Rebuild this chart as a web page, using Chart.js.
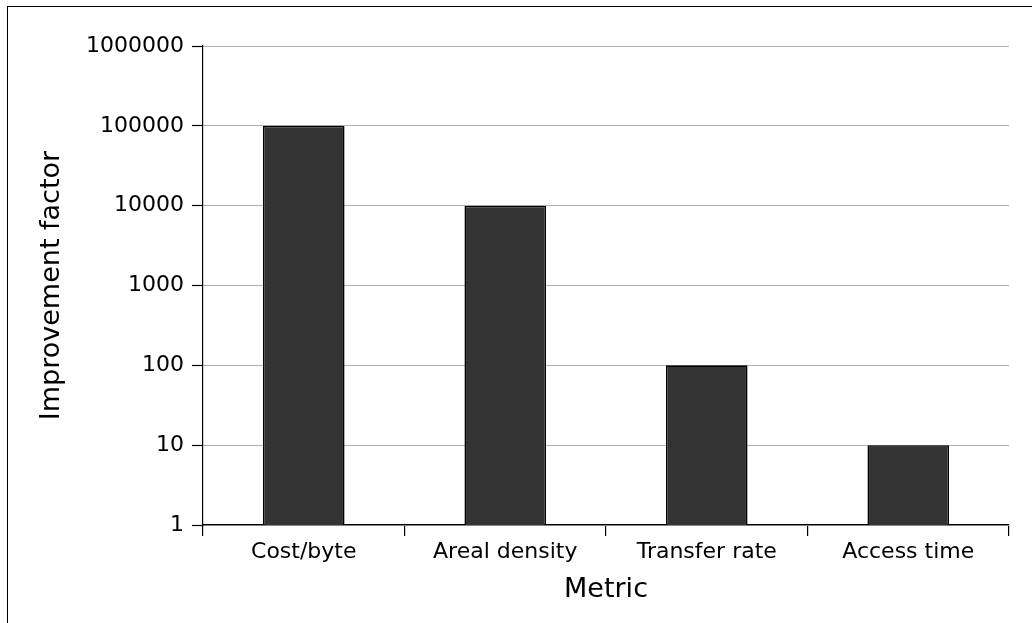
<!DOCTYPE html>
<html>
<head>
<meta charset="utf-8">
<script src="https://cdn.jsdelivr.net/npm/chart.js@4/dist/chart.umd.min.js"></script>
<style>
  body { margin: 0; background: #fff; }
  #wrap { position: relative; width: 1032px; height: 623px; overflow: hidden; }
  #frame { position: absolute; left: 7px; top: 6px; width: 1100px; height: 700px; border: 1.5px solid #000; }
  #box { position: absolute; left: 0; top: 0; width: 1032px; height: 623px; }
</style>
</head>
<body>
<div id="wrap">
  <div id="frame"></div>
  <div id="box"><canvas id="myChart"></canvas></div>
</div>
<script>
const metrics = ['Cost/byte', 'Areal density', 'Transfer rate', 'Access time'];
const improvement = [100000, 10000, 100, 10];
const yTicks = [1, 10, 100, 1000, 10000, 100000, 1000000];

Chart.defaults.font.family = 'DejaVu Sans';
Chart.defaults.color = '#000';

const ctx = document.querySelector('#myChart').getContext('2d');
const chart = new Chart(ctx, {
    type: 'bar',
    data: {
        labels: metrics,
        datasets: [{
            data: improvement,
            backgroundColor: '#333333',
            borderColor: '#000000',
            borderWidth: 1.6,
            barPercentage: 0.405,
            categoryPercentage: 1.0
        }]
    },
    options: {
        responsive: true,
        maintainAspectRatio: false,
        animation: false,
        layout: { padding: { left: 0, top: 46, right: 23, bottom: 0 } },
        plugins: { legend: { display: false }, tooltip: { enabled: false } },
        scales: {
            x: {
                type: 'category',
                offset: true,
                afterFit: function(scale) { scale.height = 98; },
                grid: { offset: true, drawOnChartArea: false, drawTicks: true, tickLength: 11, tickColor: '#000', lineWidth: 1.2 },
                border: { display: true, color: '#000', width: 1.2 },
                ticks: { font: { size: 22 }, padding: 3, maxRotation: 0 },
                title: { display: true, text: 'Metric', font: { size: 27 }, padding: { top: 0, bottom: 17 } }
            },
            y: {
                type: 'logarithmic',
                min: 1,
                max: 1000000,
                afterFit: function(scale) { scale.width = 203; },
                afterBuildTicks: function(scale) {
                    scale.ticks = yTicks.map(v => ({ value: v }));
                },
                grid: { color: '#b0b0b0', lineWidth: 1, drawTicks: true, tickLength: 11, tickColor: '#000', tickWidth: 1.2 },
                border: { display: true, color: '#000', width: 1.2 },
                ticks: {
                    font: { size: 22 },
                    padding: 8,
                    callback: function(value) { return String(value); }
                },
                title: { display: true, text: 'Improvement factor', font: { size: 27 }, padding: { top: 36, bottom: 0 } }
            }
        }
    }
});
</script>
</body>
</html>
